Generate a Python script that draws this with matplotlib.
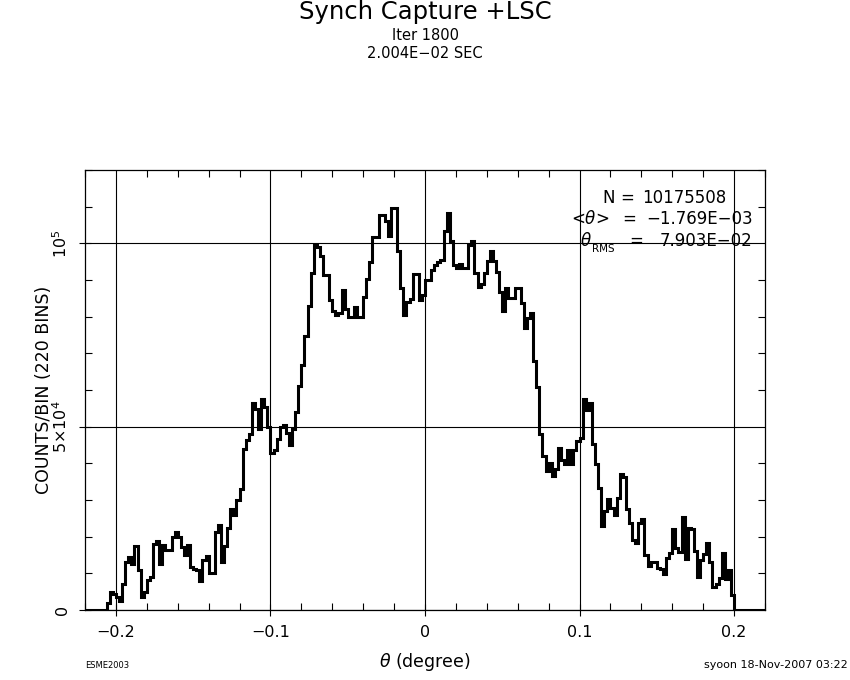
import numpy as np
import matplotlib
matplotlib.use("Agg")
import matplotlib.pyplot as plt
from matplotlib.ticker import MultipleLocator

# ---------------- data ----------------
theta_lo, theta_hi = -0.22, 0.22
n_bins = 220

counts = [
    # bins 0-6 (empty)
    0, 0, 0, 0, 0, 0, 0,
    # 7-56
    2000, 4850, 4300, 3500, 2500, 7100, 13200, 14500, 12500, 17500,
    10800, 3650, 5000, 8200, 9000, 18100, 18700, 12500, 17600, 16250,
    16250, 19900, 21400, 19900, 17100, 15000, 17600, 11700, 11200, 11000,
    8000, 13700, 14600, 10000, 10000, 21200, 23100, 13200, 17400, 22400,
    27500, 26000, 30000, 32900, 44000, 46300, 48000, 56400, 54800, 49300,
    # 57-109
    57500, 55300, 49800, 42900, 43600, 46600, 49800, 50400, 48400, 45000,
    49300, 53900, 61000, 66700, 74700, 82900, 91800, 99500, 98900, 96600,
    91300, 91300, 84500, 81500, 80400, 81000, 87200, 82200, 79900, 79900,
    82600, 80000, 80000, 85400, 90400, 95000, 101800, 101800, 107600, 107600,
    106100, 102100, 109600, 109600, 97900, 87900, 80500, 84000, 84900, 91500,
    91500, 84500, 85800,
    # 110-164
    90000, 90000, 92700, 94000, 95000, 95500, 103400, 108200, 100600, 94100,
    93200, 94400, 93300, 93300, 99600, 100500, 91800, 88100, 88800, 91800,
    95200, 97900, 95200, 92100, 86600, 81500, 87700, 85100, 85100, 87700,
    87700, 83800, 76900, 79500, 81100, 68000, 60700, 47900, 42000, 38000,
    40200, 36500, 38400, 44300, 41000, 39700, 43700, 39700, 43700, 46000,
    47000, 57500, 54500, 56500, 45200,
    # 165-209
    39700, 33300, 22800, 26900, 30400, 27900, 26000, 30600, 37200, 36400,
    27600, 23600, 19200, 18300, 23600, 24700, 15100, 12100, 13200, 13200,
    11400, 11200, 9900, 14200, 15500, 22200, 16900, 15700, 25500, 14000,
    22500, 22200, 16000, 9100, 13700, 15300, 18400, 13200, 6400, 7100,
    8700, 15500, 8500, 10800, 4100,
    # 210-219 (empty)
    0, 0, 0, 0, 0, 0, 0, 0, 0, 0,
]

n_events = 10175508
theta_mean = -1.769e-03
theta_rms = 7.903e-02

xticks = [-0.2, -0.1, 0, 0.1, 0.2]
yticks = [0, 5e4, 1e5]
ytick_labels = ['0', r'$5{\times}10^4$', r'$10^5$']

MINUS = '\u2212'


def fmt_e(v):
    return f'{v:.3E}'.replace('-', MINUS)


def px(x, y):
    # figure-pixel position -> figure fraction
    return x / 850, 1 - y / 680


# ---------------- plot ----------------
fig = plt.figure(figsize=(8.5, 6.8), dpi=100)
ax = fig.add_axes([85 / 850, 70 / 680, 680 / 850, 440 / 680])

edges = np.linspace(theta_lo, theta_hi, n_bins + 1)
ax.stairs(counts, edges, color='black', lw=2.2, baseline=0, zorder=3)

ax.set_xlim(theta_lo, theta_hi)
ax.set_ylim(0, 1.2e5)
ax.set_xticks(xticks)
ax.set_xticklabels([f'{t:g}'.replace('-', MINUS) for t in xticks], fontsize=11.5)
ax.set_yticks(yticks)
ax.set_yticklabels(ytick_labels, fontsize=11.5, rotation=90, va='center')
ax.xaxis.set_minor_locator(MultipleLocator(0.02))
ax.yaxis.set_minor_locator(MultipleLocator(1e4))
ax.tick_params(which='minor', direction='in', length=5, width=0.8,
               top=True, right=True, color='black')
ax.tick_params(which='major', direction='inout', length=9, width=0.8, pad=6,
               top=False, right=False, color='black')
ax.grid(True, which='major', color='black', lw=0.8)
for s in ax.spines.values():
    s.set_linewidth(0.9)

ax.set_xlabel(r'$\theta$ (degree)', fontsize=12.5, labelpad=8)
ax.set_ylabel('COUNTS/BIN (220 BINS)', fontsize=12.5, labelpad=-1)

# titles
fig.text(*px(425, 12), 'Synch Capture +LSC', ha='center', va='center', fontsize=17.5)
fig.text(*px(425, 36), 'Iter 1800', ha='center', va='center', fontsize=10.5)
fig.text(*px(425, 53), f'2.004E{MINUS}02 SEC', ha='center', va='center', fontsize=10.5)

# stats box text
fs = 12
fig.text(*px(602, 198), 'N', ha='left', va='center', fontsize=fs)
fig.text(*px(620, 198), '=', ha='left', va='center', fontsize=fs)
fig.text(*px(642, 198), f'{n_events}', ha='left', va='center', fontsize=fs)
fig.text(*px(571, 219), r'<$\theta$>', ha='left', va='center', fontsize=fs)
fig.text(*px(622, 219), '=', ha='left', va='center', fontsize=fs)
fig.text(*px(646, 219), fmt_e(theta_mean), ha='left', va='center', fontsize=fs)
fig.text(*px(580, 241), r'$\theta$', ha='left', va='center', fontsize=fs)
fig.text(*px(592, 249), 'RMS', ha='left', va='center', fontsize=7.5)
fig.text(*px(629, 241), '=', ha='left', va='center', fontsize=fs)
fig.text(*px(660, 241), fmt_e(theta_rms), ha='left', va='center', fontsize=fs)

# footers
fig.text(*px(85, 665), 'ESME2003', ha='left', va='center', fontsize=6)
fig.text(*px(848, 665), 'syoon 18-Nov-2007 03:22', ha='right', va='center', fontsize=8)

fig.savefig('out.png', dpi=100)
